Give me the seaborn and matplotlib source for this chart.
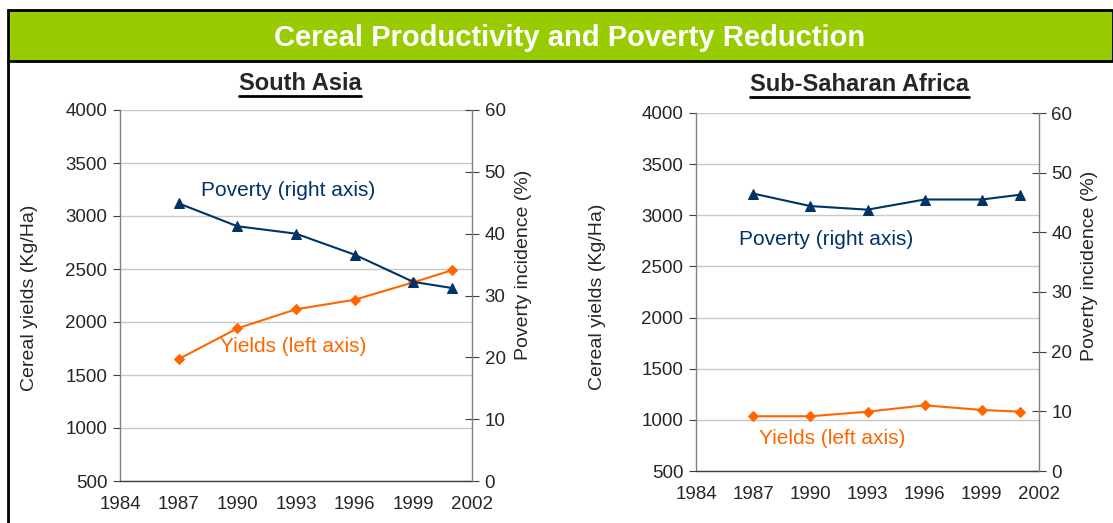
import matplotlib
matplotlib.use("Agg")
import matplotlib.pyplot as plt
import seaborn as sns
import pandas as pd
from matplotlib.patches import Rectangle
from matplotlib.lines import Line2D

# ---- data ----
years = [1987, 1990, 1993, 1996, 1999, 2001]
yields_sa = [1650, 1940, 2120, 2210, 2374, 2490]
poverty_sa = [44.9, 41.2, 40.0, 36.6, 32.2, 31.2]
yields_ssa = [1035, 1035, 1080, 1142, 1097, 1080]
poverty_ssa = [46.5, 44.4, 43.8, 45.5, 45.5, 46.3]

x_ticks = [1984, 1987, 1990, 1993, 1996, 1999, 2002]
left_ticks = [500, 1000, 1500, 2000, 2500, 3000, 3500, 4000]
right_ticks = [0, 10, 20, 30, 40, 50, 60]

title = "Cereal Productivity and Poverty Reduction"
panel_titles = ["South Asia", "Sub-Saharan Africa"]

NAVY = "#003366"
ORANGE = "#FF6600"
GREEN = "#99CC00"

sns.set_style("white")
plt.rcParams["font.family"] = ["Liberation Sans", "DejaVu Sans"]

W, H = 1113, 523
fig = plt.figure(figsize=(W / 100, H / 100), dpi=100)


def fx(px):
    return px / W


def fy(py):
    return 1 - py / H


# header bar
fig.add_artist(Rectangle((fx(8), fy(61)), 1 - fx(8), 51 / H,
                         transform=fig.transFigure, facecolor=GREEN,
                         edgecolor="black", linewidth=2, clip_on=False))
fig.add_artist(Line2D([fx(8), fx(8)], [0, fy(61)],
                      transform=fig.transFigure, color="black", linewidth=2))
fig.text(fx(570), fy(38.5), title, ha="center", va="center",
         color="white", fontsize=21, fontweight="bold")

panels = [
    dict(rect=[fx(120), fy(481), 352 / W, 371 / H],
         yields=yields_sa, poverty=poverty_sa, title=panel_titles[0],
         title_xy=(300, 83.5), ylab_l=(29.5, 298), ylab_r=(523, 265),
         pov_lab=(288, 190), yld_lab=(293, 347)),
    dict(rect=[fx(696), fy(471), 343 / W, 358 / H],
         yields=yields_ssa, poverty=poverty_ssa, title=panel_titles[1],
         title_xy=(859, 84.5), ylab_l=(597, 297), ylab_r=(1090, 266),
         pov_lab=(826.5, 240), yld_lab=(832, 438)),
]

for p in panels:
    ax = fig.add_axes(p["rect"])
    ax2 = ax.twinx()
    df = pd.DataFrame({"year": years, "yields": p["yields"], "poverty": p["poverty"]})
    sns.lineplot(data=df, x="year", y="yields", ax=ax, color=ORANGE,
                 marker="D", markersize=5, markeredgecolor=ORANGE, linewidth=1.5)
    sns.lineplot(data=df, x="year", y="poverty", ax=ax2, color=NAVY,
                 marker="^", markersize=7, markeredgecolor=NAVY, linewidth=1.5)
    ax.set_xlim(1984, 2002)
    ax.set_ylim(500, 4000)
    ax2.set_ylim(0, 60)
    ax.set_xticks(x_ticks)
    ax.set_yticks(left_ticks)
    ax2.set_yticks(right_ticks)
    ax.grid(axis="y", color="#C8C8C8", linewidth=1)
    ax.set_axisbelow(True)
    ax.set_xlabel("")
    ax.set_ylabel("")
    ax2.set_ylabel("")
    for a in (ax, ax2):
        a.spines["top"].set_visible(False)
        for s in ("left", "right", "bottom"):
            a.spines[s].set_color("#808080")
            a.spines[s].set_linewidth(1)
    ax.spines["bottom"].set_color("#404040")
    ax.spines["right"].set_visible(False)
    ax2.spines["left"].set_visible(False)
    ax2.spines["bottom"].set_visible(False)
    ax.tick_params(axis="x", direction="in", length=5, color="#808080",
                   labelsize=13.5, pad=11)
    ax.tick_params(axis="y", direction="out", length=5, color="#404040",
                   labelsize=13.5, pad=4, left=True)
    ax2.tick_params(axis="y", direction="inout", length=10, color="#404040",
                    labelsize=13.5, pad=4, right=True)
    fig.text(fx(p["ylab_l"][0]), fy(p["ylab_l"][1]), "Cereal yields (Kg/Ha)",
             rotation=90, ha="center", va="center", fontsize=14)
    fig.text(fx(p["ylab_r"][0]), fy(p["ylab_r"][1]), "Poverty incidence (%)",
             rotation=90, ha="center", va="center", fontsize=14)
    t = fig.text(fx(p["title_xy"][0]), fy(p["title_xy"][1]), p["title"],
                 ha="center", va="center", fontsize=17, fontweight="bold")
    # underline
    fig.canvas.draw()
    bb = t.get_window_extent()
    fig.add_artist(Line2D([bb.x0 / W, bb.x1 / W],
                          [(bb.y0 - 1) / H, (bb.y0 - 1) / H],
                          transform=fig.transFigure, color="black", linewidth=2))
    fig.text(fx(p["pov_lab"][0]), fy(p["pov_lab"][1]),
             "Poverty (right axis)", ha="center", va="center",
             fontsize=15, color=NAVY)
    fig.text(fx(p["yld_lab"][0]), fy(p["yld_lab"][1]),
             "Yields (left axis)", ha="center", va="center",
             fontsize=15, color=ORANGE)

fig.savefig("out.png", dpi=100)
